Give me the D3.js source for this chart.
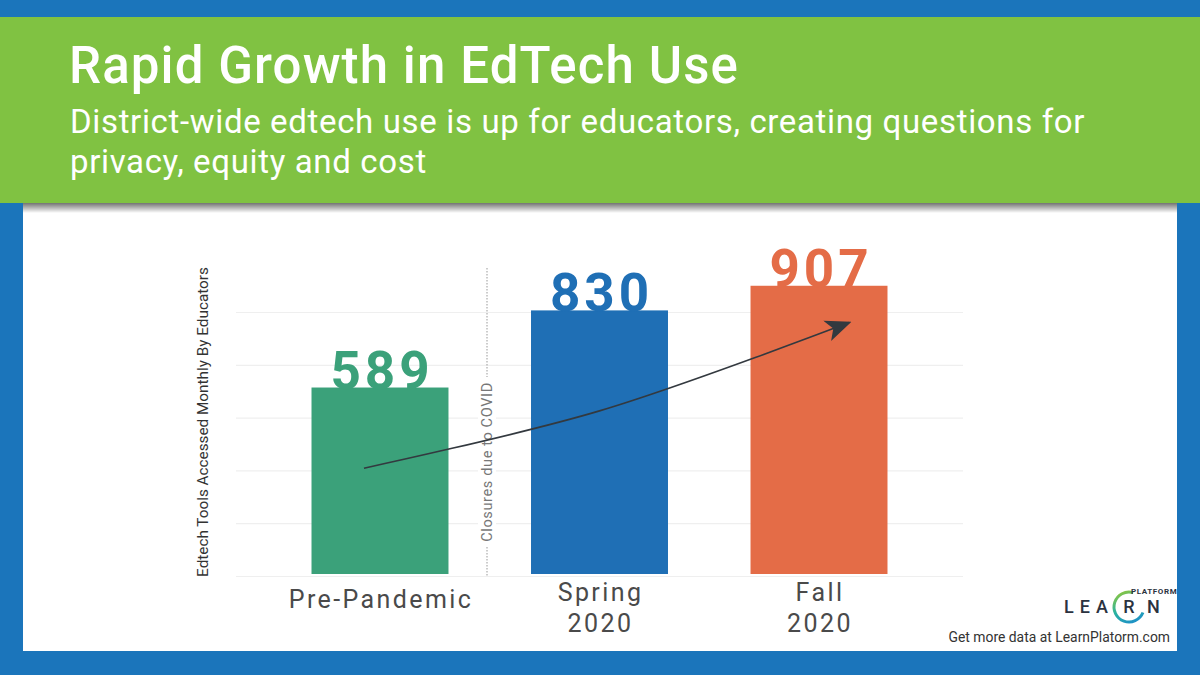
<!DOCTYPE html>
<html>
<head>
<meta charset="utf-8">
<script src="https://cdn.jsdelivr.net/npm/d3@7"></script>
<style>
  html, body { margin: 0; padding: 0; background: #1b75bb; }
  svg { display: block; font-family: Roboto, "Noto Sans", sans-serif; }
</style>
</head>
<body>
<svg id="chart"></svg>
<script>
// data
var categories = ["Pre-Pandemic", "Spring 2020", "Fall 2020"];
var labelLines = [["Pre-Pandemic"], ["Spring", "2020"], ["Fall", "2020"]];
var toolsUsed = [589, 830, 907];
var barColors = ["#3ba17a", "#1f6fb5", "#e46c47"];
var gridValues = [0, 165, 330, 495, 660, 825];
// trend arrow drawn over the bars (category, offset within step, value)
var trendCats = ["Pre-Pandemic", "Spring 2020", "Fall 2020"];
var trendOffsets = [-0.073, 0, 0.137];
var trendValues = [337, 516, 792];

var W = 1200, H = 675;
var svg = d3.select("#chart").attr("width", W).attr("height", H);

var defs = svg.append("defs");
var shadow = defs.append("linearGradient").attr("id", "shadow")
    .attr("x1", 0).attr("y1", 0).attr("x2", 0).attr("y2", 1);
shadow.append("stop").attr("offset", "0%").attr("stop-color", "#000").attr("stop-opacity", 0.55);
shadow.append("stop").attr("offset", "100%").attr("stop-color", "#000").attr("stop-opacity", 0);

var ring = defs.append("linearGradient").attr("id", "ring")
    .attr("x1", 0.3).attr("y1", 0).attr("x2", 0.7).attr("y2", 1);
ring.append("stop").attr("offset", "0%").attr("stop-color", "#8cc63f");
ring.append("stop").attr("offset", "50%").attr("stop-color", "#2bb3a0");
ring.append("stop").attr("offset", "100%").attr("stop-color", "#1d8fc9");

defs.append("marker").attr("id", "head")
    .attr("viewBox", "0 0 10 10").attr("refX", 9).attr("refY", 5)
    .attr("markerWidth", 26).attr("markerHeight", 26)
    .attr("markerUnits", "userSpaceOnUse")
    .attr("orient", "auto")
  .append("path")
    .attr("d", "M0,0.8 L10,5 L0,9.2 L2.5,5 Z")
    .attr("fill", "#33393f");

// frame
svg.append("rect").attr("width", W).attr("height", H).attr("fill", "#1b75bb");
svg.append("rect").attr("x", 23).attr("y", 200).attr("width", 1154).attr("height", 451).attr("fill", "#fff");
svg.append("rect").attr("x", 23).attr("y", 203).attr("width", 1154).attr("height", 10).attr("fill", "url(#shadow)");
svg.append("rect").attr("x", 0).attr("y", 17).attr("width", W).attr("height", 186).attr("fill", "#80c242");

svg.append("text").attr("x", 69).attr("y", 83)
    .attr("fill", "#fff").attr("font-size", 51).attr("font-weight", 500)
    .attr("letter-spacing", 1.1)
    .text("Rapid Growth in EdTech Use");
svg.append("text").attr("x", 70).attr("y", 133)
    .attr("fill", "#fff").attr("font-size", 33).attr("letter-spacing", 0.65)
    .text("District-wide edtech use is up for educators, creating questions for");
svg.append("text").attr("x", 70).attr("y", 173)
    .attr("fill", "#fff").attr("font-size", 33).attr("letter-spacing", 0.65)
    .text("privacy, equity and cost");

// scales
var x = d3.scaleBand().domain(categories).range([236, 963])
    .paddingInner(0.376).paddingOuter(0.344);
var y = d3.scaleLinear().domain([0, 1000]).range([576, 256]);

var g = svg.append("g");

g.append("g")
    .attr("class", "grid")
    .attr("transform", "translate(236,0)")
    .call(d3.axisRight(y).tickValues(gridValues).tickSize(727).tickFormat(""))
    .call(function(s) {
      s.select(".domain").remove();
      s.selectAll(".tick line").attr("stroke", "#efefef").attr("stroke-width", 1.2);
    });

g.selectAll(".bar")
    .data(toolsUsed)
    .enter().append("rect")
    .attr("class", "bar")
    .attr("x", function(d, i) { return x(categories[i]); })
    .attr("width", x.bandwidth())
    .attr("y", function(d) { return y(d); })
    .attr("height", function(d) { return y(0) - 2 - y(d); })
    .attr("fill", function(d, i) { return barColors[i]; });

g.selectAll(".val")
    .data(toolsUsed)
    .enter().append("text")
    .attr("class", "val")
    .attr("x", function(d, i) { return x(categories[i]) + x.bandwidth() / 2 + 2; })
    .attr("y", function(d) { return y(d) + 1; })
    .attr("text-anchor", "middle")
    .attr("font-size", 53).attr("font-weight", 700)
    .attr("letter-spacing", 4)
    .attr("fill", function(d, i) { return barColors[i]; })
    .text(function(d) { return d; });

// closures line
var xDiv = 487;
g.append("line").attr("x1", xDiv).attr("x2", xDiv).attr("y1", 268).attr("y2", 576)
    .attr("stroke", "#999").attr("stroke-width", 1).attr("stroke-dasharray", "1.5,1.5");
var note = g.append("g").attr("transform", "translate(" + (xDiv + 5) + ",462) rotate(-90)");
note.append("rect").attr("x", -85).attr("y", -14).attr("width", 170).attr("height", 18).attr("fill", "#fff");
note.append("text").attr("text-anchor", "middle").attr("font-size", 14.6)
    .attr("letter-spacing", 0.6).attr("fill", "#777")
    .text("Closures due to COVID");

// trend arrow
var pts = trendCats.map(function(c, i) {
  return [x(c) + x.bandwidth() / 2 + trendOffsets[i] * x.step(), y(trendValues[i])];
});
g.append("path")
    .attr("d", d3.line().curve(d3.curveCatmullRom.alpha(0.5))(pts))
    .attr("fill", "none").attr("stroke", "#33393f").attr("stroke-width", 1.6)
    .attr("marker-end", "url(#head)");

// axis labels
var xl = g.append("g");
labelLines.forEach(function(lines, i) {
  var cx = x(categories[i]) + x.bandwidth() / 2 + 1;
  var t = xl.append("text")
      .attr("x", cx)
      .attr("y", lines.length > 1 ? 601 : 608)
      .attr("text-anchor", "middle")
      .attr("font-size", 25).attr("letter-spacing", 2.4).attr("fill", "#4a4a4a");
  lines.forEach(function(l, j) {
    t.append("tspan").attr("x", cx)
        .attr("dy", j === 0 ? 0 : 31).text(l);
  });
});

g.append("text")
    .attr("transform", "translate(208,422) rotate(-90)")
    .attr("text-anchor", "middle")
    .attr("font-size", 15.3).attr("fill", "#333")
    .text("Edtech Tools Accessed Monthly By Educators");

// logo
var logo = svg.append("g");
logo.append("text").attr("x", 1064).attr("y", 613)
    .attr("font-size", 18).attr("font-weight", 500).attr("letter-spacing", 6)
    .attr("fill", "#2b3240").text("LEA");
logo.append("text").attr("x", 1129).attr("y", 613).attr("text-anchor", "middle")
    .attr("font-size", 18).attr("font-weight", 500)
    .attr("fill", "#2b3240").text("R");
logo.append("text").attr("x", 1147).attr("y", 613)
    .attr("font-size", 18).attr("font-weight", 500)
    .attr("fill", "#2b3240").text("N");
logo.append("path")
    .attr("transform", "translate(1129,607)")
    .attr("d", d3.arc().innerRadius(13.5).outerRadius(16.5)
        .startAngle(1.95).endAngle(2 * Math.PI + 0.28)())
    .attr("fill", "url(#ring)");
logo.append("text").attr("x", 1131).attr("y", 594)
    .attr("font-size", 8).attr("font-weight", 700).attr("letter-spacing", 0.6)
    .attr("fill", "#2b3240").text("PLATFORM");

svg.append("text").attr("x", 1170).attr("y", 642).attr("text-anchor", "end")
    .attr("font-size", 13.9).attr("fill", "#333")
    .text("Get more data at LearnPlatorm.com");
</script>
</body>
</html>
